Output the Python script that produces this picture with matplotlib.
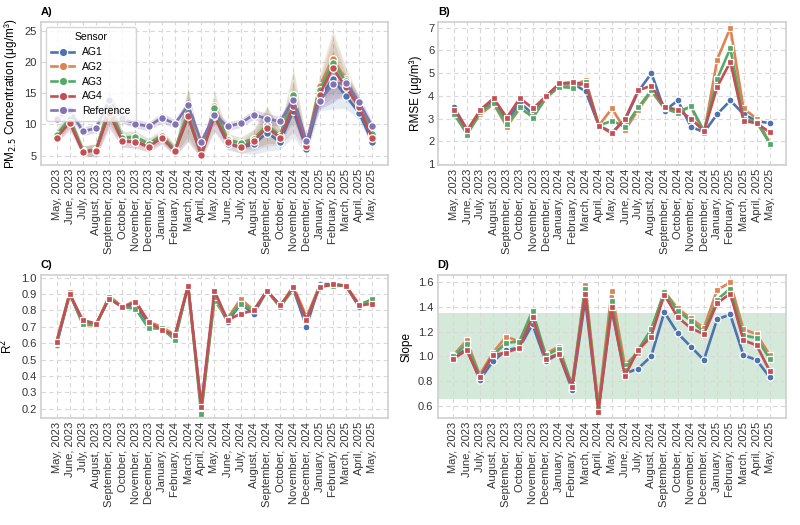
import numpy as np
import matplotlib
matplotlib.use("Agg")
import matplotlib.pyplot as plt

months = ["May, 2023", "June, 2023", "July, 2023", "August, 2023", "September, 2023",
          "October, 2023", "November, 2023", "December, 2023", "January, 2024",
          "February, 2024", "March, 2024", "April, 2024", "May, 2024", "June, 2024",
          "July, 2024", "August, 2024", "September, 2024", "October, 2024",
          "November, 2024", "December, 2024", "January, 2025", "February, 2025",
          "March, 2025", "April, 2025", "May, 2025"]
sensors = ["AG1", "AG2", "AG3", "AG4"]

# panel A: monthly mean PM2.5
pm_ref = [10.9, 12.3, 8.9, 9.4, 14.0, 11.0, 10.1, 9.7, 11.1, 10.1, 13.1, 7.2, 11.6,
          9.7, 10.2, 11.6, 10.9, 10.5, 14.0, 7.3, 13.8, 16.5, 16.7, 13.6, 9.7]
pm_ag1 = [8.0, 10.5, 5.7, 5.8, 12.0, 7.4, 7.2, 6.5, 7.9, 5.7, 11.2, 5.0, 11.4,
          6.9, 6.3, 6.8, 8.7, 7.2, 12.2, 6.0, 14.2, 17.3, 14.6, 11.9, 7.2]
pm_ag2 = [8.3, 10.9, 5.8, 5.9, 12.8, 7.9, 7.9, 6.8, 8.3, 5.9, 12.0, 5.1, 13.0,
          7.6, 7.0, 7.7, 9.9, 8.2, 14.8, 6.8, 16.2, 20.6, 17.3, 13.4, 8.3]
pm_ag3 = [8.3, 10.9, 5.8, 5.9, 12.7, 7.9, 8.0, 6.9, 8.2, 5.9, 12.0, 5.1, 12.6,
          7.5, 7.0, 7.7, 9.9, 8.2, 14.7, 6.7, 15.6, 19.9, 17.0, 13.2, 8.4]
pm_ag4 = [7.9, 10.3, 5.6, 5.8, 11.9, 7.3, 7.2, 6.4, 7.9, 5.7, 11.3, 5.1, 11.4,
          7.1, 6.3, 7.4, 9.5, 7.9, 13.0, 6.6, 14.8, 19.1, 16.0, 12.8, 7.8]
# half-width of the shaded intervals
ci_sensor = [1.0, 1.2, 0.8, 1.0, 2.5, 1.0, 1.0, 0.9, 1.0, 0.8, 4.0, 0.6, 2.5,
             1.0, 0.9, 1.6, 3.0, 1.2, 4.2, 0.9, 2.0, 4.8, 2.0, 1.2, 0.9]
ci_ref = [0.8, 0.9, 0.7, 0.7, 1.0, 0.8, 0.7, 0.7, 0.8, 0.7, 1.0, 0.6, 0.9,
          0.7, 0.7, 0.8, 0.9, 0.8, 1.2, 0.6, 1.3, 3.0, 1.5, 1.0, 0.8]

rmse = {
    "AG1": [3.5, 2.5, 3.3, 3.8, 2.9, 3.7, 3.2, 4.0, 4.5, 4.55, 4.2, 2.7, 2.4, 2.95,
            4.2, 5.0, 3.35, 3.8, 2.65, 2.4, 3.2, 3.8, 3.2, 2.9, 2.8],
    "AG2": [3.25, 2.4, 3.2, 3.65, 2.65, 3.45, 3.1, 3.9, 4.45, 4.45, 4.7, 2.7, 3.45, 2.5,
            3.4, 4.2, 3.45, 3.35, 3.5, 2.35, 5.6, 7.0, 3.45, 3.0, 1.95],
    "AG3": [3.2, 2.3, 3.3, 3.7, 2.75, 3.5, 3.05, 3.95, 4.4, 4.35, 4.6, 2.7, 2.9, 2.65,
            3.5, 4.25, 3.45, 3.25, 3.55, 2.45, 4.75, 6.1, 3.0, 2.85, 1.9],
    "AG4": [3.4, 2.5, 3.4, 3.9, 3.05, 3.9, 3.45, 4.0, 4.55, 4.6, 4.5, 2.7, 2.35, 3.0,
            4.25, 4.45, 3.5, 3.4, 3.0, 2.45, 4.4, 5.5, 2.9, 2.8, 2.4],
}
r2 = {
    "AG1": [0.59, 0.90, 0.72, 0.71, 0.88, 0.82, 0.83, 0.72, 0.69, 0.63, 0.95, 0.22, 0.88,
            0.73, 0.84, 0.78, 0.92, 0.83, 0.93, 0.70, 0.96, 0.96, 0.95, 0.82, 0.86],
    "AG2": [0.61, 0.91, 0.71, 0.71, 0.89, 0.82, 0.86, 0.73, 0.70, 0.65, 0.95, 0.19, 0.86,
            0.75, 0.87, 0.80, 0.92, 0.82, 0.95, 0.76, 0.95, 0.95, 0.95, 0.84, 0.86],
    "AG3": [0.60, 0.90, 0.72, 0.71, 0.88, 0.82, 0.81, 0.69, 0.69, 0.62, 0.95, 0.17, 0.88,
            0.75, 0.84, 0.80, 0.92, 0.82, 0.93, 0.74, 0.95, 0.95, 0.95, 0.83, 0.87],
    "AG4": [0.61, 0.90, 0.74, 0.72, 0.87, 0.82, 0.85, 0.73, 0.68, 0.65, 0.95, 0.21, 0.92,
            0.74, 0.78, 0.80, 0.92, 0.83, 0.94, 0.74, 0.94, 0.96, 0.95, 0.83, 0.84],
}
slope = {
    "AG1": [0.99, 1.06, 0.81, 0.96, 1.05, 1.07, 1.26, 0.96, 1.02, 0.73, 1.46, 0.56, 1.38,
            0.86, 0.90, 1.00, 1.36, 1.19, 1.08, 0.97, 1.30, 1.34, 1.01, 0.97, 0.83],
    "AG2": [1.01, 1.13, 0.85, 1.03, 1.16, 1.12, 1.30, 1.02, 1.08, 0.76, 1.58, 0.60, 1.53,
            0.93, 1.03, 1.20, 1.53, 1.39, 1.31, 1.23, 1.54, 1.60, 1.22, 1.18, 1.01],
    "AG3": [1.00, 1.10, 0.84, 1.01, 1.11, 1.12, 1.37, 1.01, 1.06, 0.77, 1.55, 0.58, 1.45,
            0.89, 1.05, 1.22, 1.52, 1.37, 1.29, 1.20, 1.46, 1.55, 1.17, 1.15, 0.98],
    "AG4": [0.98, 1.05, 0.83, 1.01, 1.03, 1.07, 1.32, 0.98, 1.02, 0.75, 1.51, 0.55, 1.40,
            0.84, 1.05, 1.16, 1.50, 1.32, 1.23, 1.18, 1.43, 1.51, 1.13, 1.09, 0.88],
}

colors = {"AG1": "#4C72B0", "AG2": "#DD8452", "AG3": "#55A868", "AG4": "#C44E52",
          "Reference": "#8172B3"}
markers = {"AG1": "o", "AG2": "s", "AG3": "s", "AG4": "s"}

plt.rcParams["font.family"] = ["Liberation Sans", "DejaVu Sans"]
plt.rcParams["font.size"] = 8

fig = plt.figure(figsize=(8, 5.25), dpi=100)
axA = fig.add_axes([0.051, 0.686, 0.434, 0.272])
axB = fig.add_axes([0.548, 0.686, 0.434, 0.272])
axC = fig.add_axes([0.051, 0.204, 0.434, 0.272])
axD = fig.add_axes([0.547, 0.204, 0.435, 0.272])

x = np.arange(len(months))


def style(ax, title):
    ax.set_facecolor("white")
    ax.grid(True, linestyle=(0, (4, 3)), color="#d8d8d8", linewidth=0.8)
    ax.set_axisbelow(True)
    for s in ax.spines.values():
        s.set_color("#cfcfcf")
        s.set_linewidth(1.2)
    ax.tick_params(length=0, labelsize=8, colors="#333333", pad=3)
    ax.set_xticks(x)
    ax.set_xticklabels(months, rotation=90)
    ax.set_xlim(-1.2, 25.2)
    ax.set_title(title, loc="left", fontweight="bold", fontsize=8, pad=5)


# A
pm = {"AG1": pm_ag1, "AG2": pm_ag2, "AG3": pm_ag3, "AG4": pm_ag4}
for s in sensors:
    v = np.array(pm[s])
    c = np.array(ci_sensor)
    axA.fill_between(x, v - c, v + c, color=colors[s], alpha=0.14, linewidth=0)
vr = np.array(pm_ref)
axA.fill_between(x, vr - np.array(ci_ref), vr + np.array(ci_ref),
                 color=colors["Reference"], alpha=0.25, linewidth=0)
for s in sensors:
    axA.plot(x, pm[s], color=colors[s], marker="o", markersize=5.5, lw=1.9,
             markeredgecolor="white", markeredgewidth=0.9, label=s)
axA.plot(x, pm_ref, color=colors["Reference"], marker="o", markersize=5.5, lw=1.9,
         markeredgecolor="white", markeredgewidth=0.9, label="Reference")
style(axA, "A)")
axA.set_ylim(3.5, 26.5)
axA.set_yticks([5, 10, 15, 20, 25])
axA.set_ylabel("PM$_{2.5}$ Concentration (μg/m³)", fontsize=8.5)
leg = axA.legend(title="Sensor", loc="upper left", fontsize=7.5, title_fontsize=7.5,
                 frameon=True, borderpad=0.5, labelspacing=0.45, handlelength=2.2,
                 markerscale=1.1)
leg.get_frame().set_edgecolor("#cccccc")


def metric(ax, data, title, ylabel):
    for s in sensors:
        ax.plot(x, data[s], color=colors[s], marker=markers[s], markersize=5, lw=1.9,
                markeredgecolor="white", markeredgewidth=0.9)
    style(ax, title)
    ax.set_ylabel(ylabel, fontsize=8.5)


metric(axB, rmse, "B)", "RMSE (μg/m³)")
axB.set_ylim(0.97, 7.25)
axB.set_yticks([1, 2, 3, 4, 5, 6, 7])

metric(axC, r2, "C)", "R$^2$")
axC.set_ylim(0.145, 1.015)
axC.set_yticks(np.arange(0.2, 1.01, 0.1))
axC.set_yticklabels([f"{t:.1f}" for t in np.arange(0.2, 1.01, 0.1)])

axD.axhspan(0.65, 1.35, color="#55A868", alpha=0.25, linewidth=0, zorder=0)
metric(axD, slope, "D)", "Slope")
axD.set_ylim(0.5, 1.66)
axD.set_yticks([0.6, 0.8, 1.0, 1.2, 1.4, 1.6])
axD.set_yticklabels(["0.6", "0.8", "1.0", "1.2", "1.4", "1.6"])

fig.savefig("out.png", dpi=100)
